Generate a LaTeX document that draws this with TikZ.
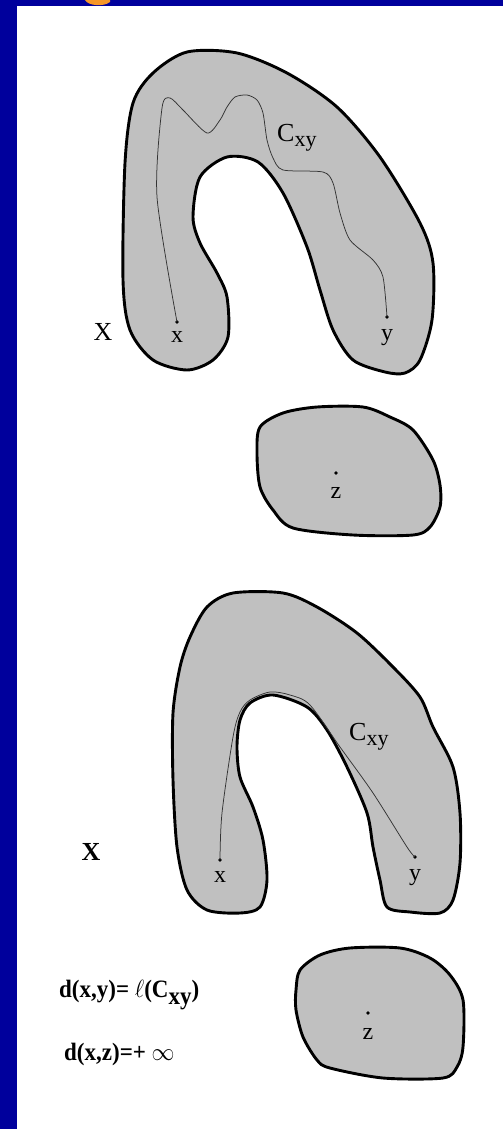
\documentclass[tikz,border=0pt]{standalone}
\usepackage{fontspec}
\setmainfont{Liberation Serif}
\usepackage{tikz}
\definecolor{slideblue}{RGB}{0,0,156}
\definecolor{setgray}{RGB}{192,192,192}
\definecolor{titleorange}{RGB}{245,150,40}

\begin{document}
\begin{tikzpicture}[x=1pt,y=-1pt,
  region/.style={fill=setgray,draw=black,line width=2.9pt,line join=round},
  route/.style={draw=black!80,line width=0.75pt},
  pt/.style={circle,fill=black,inner sep=0pt,minimum size=3.8pt},
  ptlabel/.style={anchor=base,inner sep=0pt,font=\fontsize{24}{26}\selectfont},
  setlabel/.style={anchor=base,inner sep=0pt,font=\fontsize{26}{28}\selectfont},
  formula/.style={anchor=base west,inner sep=0pt,xscale=0.92,font=\fontsize{25}{27}\selectfont\bfseries}]
 \useasboundingbox (0,0) rectangle (503,1129);
 \fill[white] (0,0) rectangle (503,1129);
 \fill[slideblue] (0,0) rectangle (17,1129);
 \fill[slideblue] (0,0) rectangle (503,6);
 \fill[titleorange] (85,0) .. controls (88,6) and (104,7) .. (110,2) -- (110,0) -- cycle;

 \draw[region] plot[smooth cycle,tension=0.5] coordinates {
  (187,52) (237,53) (287,73) (337,107) (380,157) (420,223) (433,263) (432,320)
  (420,360) (405,373) (385,372) (353,360) (333,330) (320,290) (307,247) (283,193)
  (258,162) (227,157) (200,177) (193,217) (200,243) (217,273) (227,297) (228,337)
  (213,360) (187,370) (153,360) (130,330) (123,280) (125,163) (133,103) (153,73)};
 \draw[region] plot[smooth cycle,tension=0.5] coordinates {
  (260,427) (283,413) (317,407) (363,407) (390,417) (413,430) (433,460) (440,485)
  (440,507) (430,527) (413,535) (353,535) (293,528) (273,510) (260,487) (257,453)};
 \draw[region] plot[smooth cycle,tension=0.5] coordinates {
  (207,607) (233,593) (283,593) (317,607) (357,633) (393,667) (420,697) (433,727)
  (453,767) (460,813) (460,863) (453,900) (440,913) (410,912) (387,907) (380,880)
  (373,847) (367,813) (347,767) (327,730) (307,707) (273,695) (250,703) (240,720)
  (237,747) (240,777) (253,807) (263,840) (267,880) (260,907) (240,913) (207,910)
  (187,890) (177,847) (173,780) (173,713) (180,667) (190,637)};
 \draw[region] plot[smooth cycle,tension=0.5] coordinates {
  (300,970) (320,955) (350,948) (400,948) (430,958) (450,975) (463,1000) (463,1047)
  (457,1067) (443,1078) (383,1078) (330,1068) (317,1060) (303,1037) (296,1010) (296,990)};

 \node[pt] (xa) at (177,322) {};
 \node[pt] (ya) at (387,317) {};
 \node[pt] (za) at (336,473) {};
 \node[pt] (xb) at (220,860) {};
 \node[pt] (yb) at (415,857) {};
 \node[pt] (zb) at (368,1013) {};

 \draw[route] plot[smooth,tension=0.45] coordinates {
  (xa.center) (157,197) (162,108) (170,98) (183,110) (207,133) (220,120) (227,107)
  (235,97) (247,95) (257,100) (263,113) (267,140) (273,158) (283,170) (323,172)
  (333,183) (340,213) (350,240) (373,260) (383,277) (ya.center)};
 \draw[route] plot[smooth,tension=0.5] coordinates {
  (xb.center) (222,813) (233,737) (240,712) (250,700) (270,692) (290,695) (310,705)
  (340,747) (373,793) (407,847) (yb.center)};

 \node[ptlabel] (xalab) at (177,342) {x};
 \node[ptlabel] (yalab) at (387,340) {y};
 \node[ptlabel] (zalab) at (336,498) {z};
 \node[ptlabel] (xblab) at (220,882) {x};
 \node[ptlabel] (yblab) at (415,880) {y};
 \node[ptlabel] (zblab) at (368,1039) {z};
 \node[setlabel,anchor=base west] (cxya) at (277,142) {C\raisebox{-5pt}{\fontsize{22}{24}\selectfont xy}};
 \node[setlabel,anchor=base west] (cxyb) at (349,740) {C\raisebox{-5pt}{\fontsize{22}{24}\selectfont xy}};
 \node[setlabel] (seta) at (103,340) {X};
 \node[setlabel,font=\fontsize{26}{28}\selectfont\bfseries] (setb) at (91,860) {X};

 \node[formula] (dxy) at (59,997) {d(x,y)= $\ell$(C\raisebox{-7pt}{xy})};
 \node[formula] (dxz) at (64,1060) {d(x,z)=+ $\infty$};
\end{tikzpicture}
\end{document}
